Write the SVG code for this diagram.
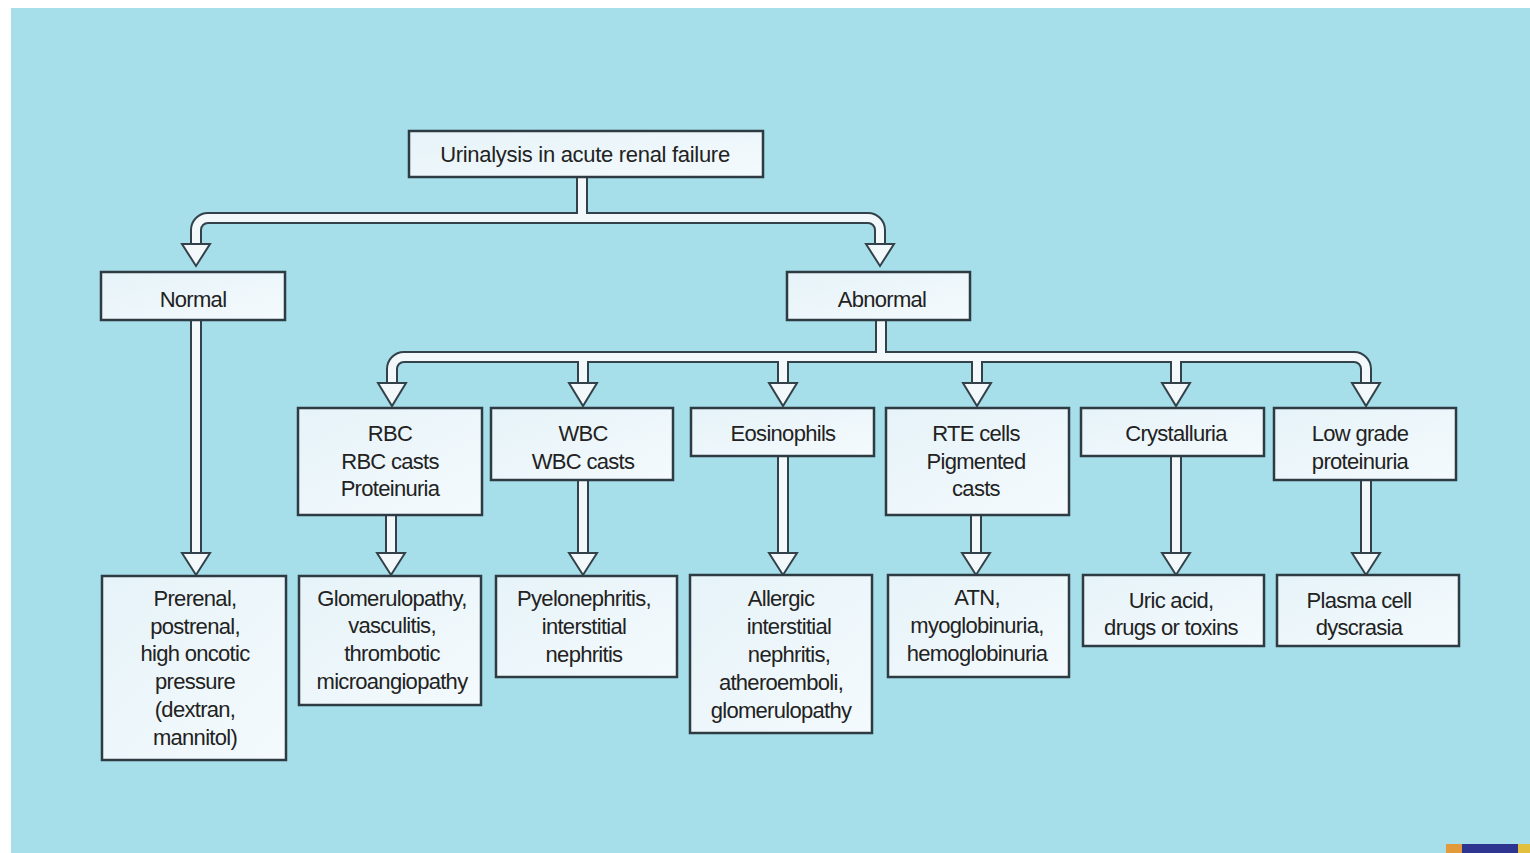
<svg xmlns="http://www.w3.org/2000/svg" width="1530" height="853" viewBox="0 0 1530 853">
<defs>
<linearGradient id="bx" x1="0" y1="0" x2="1" y2="1">
<stop offset="0" stop-color="#e6f3f8"/>
<stop offset="1" stop-color="#f4fafd"/>
</linearGradient>
<style>
.box{fill:url(#bx);stroke:#2e3b42;stroke-width:2.5}
.t{font-family:"Liberation Sans",Arial,sans-serif;font-size:22px;letter-spacing:-0.7px;fill:#222222;text-anchor:middle;dominant-baseline:central}
.pd{fill:none;stroke:#33424a;stroke-width:12}
.pw{fill:none;stroke:#f3f9fb;stroke-width:8}
.ah{fill:#f3f9fb;stroke:#33424a;stroke-width:2;stroke-linejoin:miter}
</style>
</defs>
<rect x="0" y="0" width="1530" height="853" fill="#ffffff"/>
<rect x="11" y="8" width="1519" height="845" fill="#a6dfea"/>
<g id="connectors">
<g class="pd">
<path d="M582 177 V218"/>
<path d="M196 244 V230 A12 12 0 0 1 208 218 H868 A12 12 0 0 1 880 230 V244"/>
<path d="M881 320 V357"/>
<path d="M392 383 V369 A12 12 0 0 1 404 357 H1354 A12 12 0 0 1 1366 369 V383"/>
<path d="M583 357 V383 M783 357 V383 M977 357 V383 M1176 357 V383"/>
<path d="M196 320 V553 M391 515 V553 M583 480 V553 M783 456 V553 M976 515 V553 M1176 456 V553 M1366 480 V553"/>
</g>
<g class="pw">
<path d="M582 175 V218"/>
<path d="M196 246 V230 A12 12 0 0 1 208 218 H868 A12 12 0 0 1 880 230 V246"/>
<path d="M881 318 V357"/>
<path d="M392 385 V369 A12 12 0 0 1 404 357 H1354 A12 12 0 0 1 1366 369 V385"/>
<path d="M583 357 V385 M783 357 V385 M977 357 V385 M1176 357 V385"/>
<path d="M196 318 V555 M391 513 V555 M583 478 V555 M783 454 V555 M976 513 V555 M1176 454 V555 M1366 478 V555"/>
</g>
<g class="ah">
<polygon points="182,244 210,244 196,266"/>
<polygon points="866,244 894,244 880,266"/>
<polygon points="378,383 406,383 392,406"/>
<polygon points="569,383 597,383 583,406"/>
<polygon points="769,383 797,383 783,406"/>
<polygon points="963,383 991,383 977,406"/>
<polygon points="1162,383 1190,383 1176,406"/>
<polygon points="1352,383 1380,383 1366,406"/>
<polygon points="182,553 210,553 196,575"/>
<polygon points="377,553 405,553 391,575"/>
<polygon points="569,553 597,553 583,575"/>
<polygon points="769,553 797,553 783,575"/>
<polygon points="962,553 990,553 976,575"/>
<polygon points="1162,553 1190,553 1176,575"/>
<polygon points="1352,553 1380,553 1366,575"/>
</g>
</g>
<g id="n-root"><rect class="box" x="409" y="131" width="354" height="46"/><text class="t" x="585" y="154" style="letter-spacing:-0.3px">Urinalysis in acute renal failure</text></g>
<g id="n-normal"><rect class="box" x="101" y="272" width="184" height="48"/><text class="t" x="193" y="299">Normal</text></g>
<g id="n-abnormal"><rect class="box" x="787" y="272" width="183" height="48"/><text class="t" x="882" y="299">Abnormal</text></g>
<g id="n-rbc"><rect class="box" x="298" y="408" width="184" height="107"/><text class="t" x="390" y="433">RBC</text><text class="t" x="390" y="461">RBC casts</text><text class="t" x="390" y="488">Proteinuria</text></g>
<g id="n-wbc"><rect class="box" x="491" y="408" width="182" height="72"/><text class="t" x="583" y="433">WBC</text><text class="t" x="583" y="461">WBC casts</text></g>
<g id="n-eos"><rect class="box" x="691" y="408" width="183" height="48"/><text class="t" x="783" y="433">Eosinophils</text></g>
<g id="n-rte"><rect class="box" x="886" y="408" width="183" height="107"/><text class="t" x="976" y="433">RTE cells</text><text class="t" x="976" y="461">Pigmented</text><text class="t" x="976" y="488">casts</text></g>
<g id="n-crys"><rect class="box" x="1081" y="408" width="183" height="48"/><text class="t" x="1176" y="433">Crystalluria</text></g>
<g id="n-lowgrade"><rect class="box" x="1274" y="408" width="182" height="72"/><text class="t" x="1360" y="433">Low grade</text><text class="t" x="1360" y="461">proteinuria</text></g>
<g id="n-prerenal"><rect class="box" x="102" y="576" width="184" height="184"/><text class="t" x="195" y="598">Prerenal,</text><text class="t" x="195" y="626">postrenal,</text><text class="t" x="195" y="653">high oncotic</text><text class="t" x="195" y="681">pressure</text><text class="t" x="195" y="709">(dextran,</text><text class="t" x="195" y="737">mannitol)</text></g>
<g id="n-glom"><rect class="box" x="299" y="576" width="182" height="129"/><text class="t" x="392" y="598">Glomerulopathy,</text><text class="t" x="392" y="625">vasculitis,</text><text class="t" x="392" y="653">thrombotic</text><text class="t" x="392" y="681">microangiopathy</text></g>
<g id="n-pyelo"><rect class="box" x="496" y="576" width="181" height="101"/><text class="t" x="584" y="598">Pyelonephritis,</text><text class="t" x="584" y="626">interstitial</text><text class="t" x="584" y="654">nephritis</text></g>
<g id="n-allergic"><rect class="box" x="690" y="575" width="182" height="158"/><text class="t" x="781" y="598">Allergic</text><text class="t" x="789" y="626">interstitial</text><text class="t" x="789" y="654">nephritis,</text><text class="t" x="781" y="682">atheroemboli,</text><text class="t" x="781" y="710">glomerulopathy</text></g>
<g id="n-atn"><rect class="box" x="888" y="575" width="181" height="102"/><text class="t" x="977" y="597">ATN,</text><text class="t" x="977" y="625">myoglobinuria,</text><text class="t" x="977" y="653">hemoglobinuria</text></g>
<g id="n-uric"><rect class="box" x="1083" y="575" width="181" height="71"/><text class="t" x="1171" y="600">Uric acid,</text><text class="t" x="1171" y="627">drugs or toxins</text></g>
<g id="n-plasma"><rect class="box" x="1277" y="575" width="182" height="71"/><text class="t" x="1359" y="600">Plasma cell</text><text class="t" x="1359" y="627">dyscrasia</text></g>
<rect x="1446" y="844" width="16" height="9" fill="#e39a3a"/>
<rect x="1462" y="844" width="56" height="9" fill="#2e3590"/>
<rect x="1518" y="844" width="12" height="9" fill="#e2bf3c"/>
</svg>
